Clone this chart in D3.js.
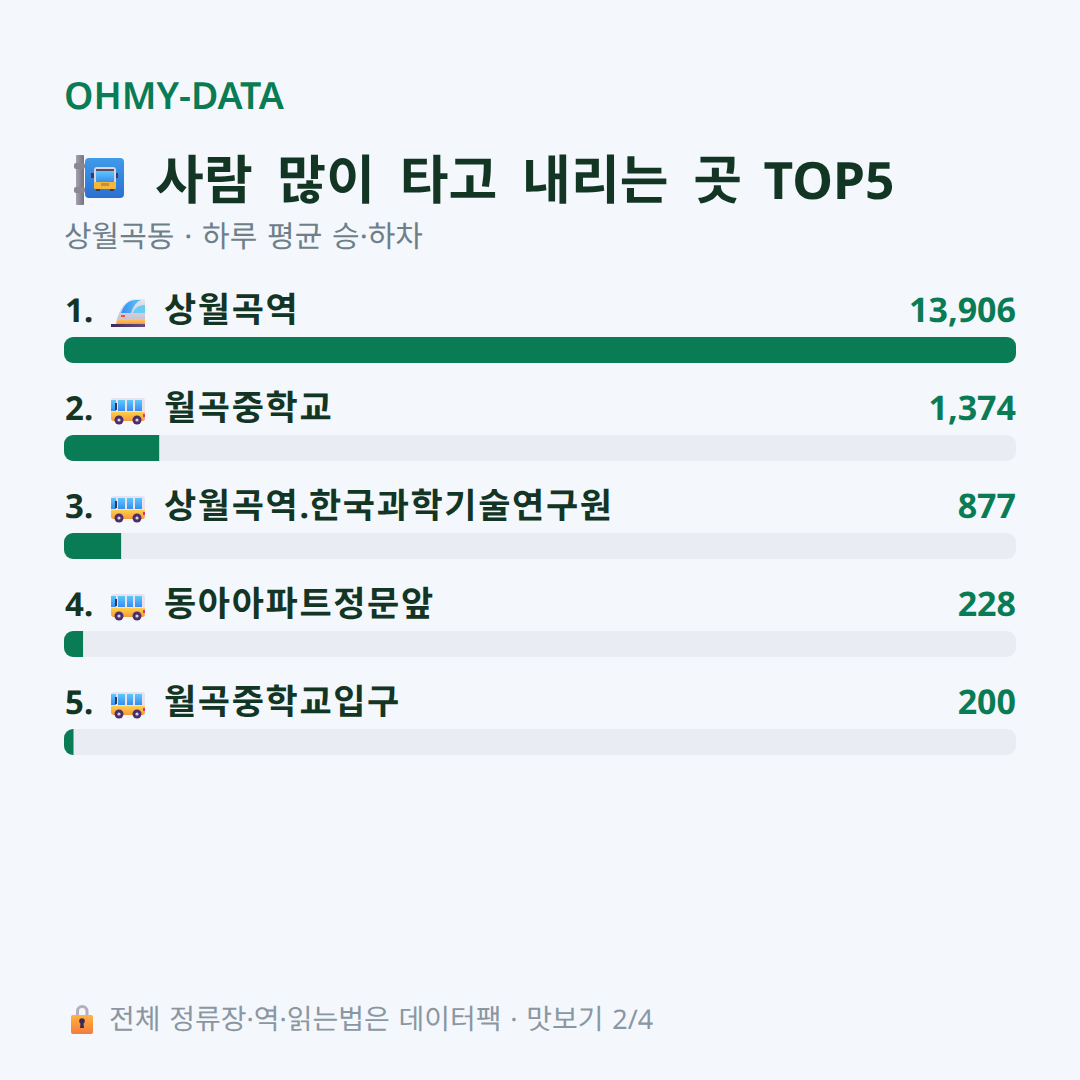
<!DOCTYPE html>
<html lang="ko"><head><meta charset="utf-8">
<script src="https://cdnjs.cloudflare.com/ajax/libs/d3/7.9.0/d3.min.js"></script>
<style>
html,body{margin:0;padding:0;background:#f4f7fc;}
svg{display:block;text-rendering:geometricPrecision;}
text{font-family:"Noto Sans","Noto Sans CJK KR",sans-serif;}
</style></head><body><svg id="c" width="1080" height="1080"></svg>
<script>
const brand = "OHMY-DATA";
const headline = "사람 많이 타고 내리는 곳 TOP5";
const subhead = "상월곡동 · 하루 평균 승·하차";
const footnote = "전체 정류장·역·읽는법은 데이터팩 · 맛보기 2/4";
const ranks = ["1.", "2.", "3.", "4.", "5."];
const stops = ["상월곡역", "월곡중학교", "상월곡역.한국과학기술연구원", "동아아파트정문앞", "월곡중학교입구"];
const riders = [13906, 1374, 877, 228, 200];
const kinds = ["train", "bus", "bus", "bus", "bus"];

const GREEN = "#0a7c55", INK = "#123524", TRACK = "#e9edf3", GREY = "#6e7f8a", FOOT = "#8a97a3";
const svg = d3.select("#c");
svg.append("rect").attr("width", 1080).attr("height", 1080).attr("fill", "#f4f7fc");

// Bars run on a whole-percent share of the busiest stop.
const share = d => Math.round(d / d3.max(riders) * 100);
const x = d3.scaleLinear().domain([0, 100]).range([64, 1016]);
const y = d3.scalePoint().domain(d3.range(stops.length)).range([337, 729]);

const defs = svg.append("defs");
function grad(id, a, b, horizontal) {
  const g = defs.append("linearGradient").attr("id", id).attr("x1", 0).attr("y1", 0)
    .attr("x2", horizontal ? 1 : 0).attr("y2", horizontal ? 0 : 1);
  g.append("stop").attr("offset", 0).attr("stop-color", a);
  g.append("stop").attr("offset", 1).attr("stop-color", b);
}
grad("gBlue", "#3f9bea", "#2b6fd0");
grad("gBody", "#ffcf4a", "#f79a3a");
grad("gSky", "#5cc8fa", "#3a8cf0");
grad("gLock", "#ffb43f", "#f47a3e");
grad("gPole", "#a5a1ac", "#77727f", true);
grad("gNose", "#e9e6ee", "#c9c4d2");
grad("gBand", "#ffc955", "#f79a4a");
grad("gRail", "#3c2a55", "#6a4a88", true);
grad("gFront", "#3a8cf0", "#5cc8fa", true);

// Hangul and Latin runs are set at their own sizes, as the two scripts differ in width.
function setRuns(sel, str, hangulSize, latinSize, hangulTrack, latinShift) {
  str.match(/[가-힣]+|[^가-힣]+/g).forEach(run => {
    const isHangul = /[가-힣]/.test(run);
    sel.append("tspan").attr("font-size", isHangul ? hangulSize : latinSize)
      .attr("letter-spacing", isHangul ? hangulTrack : 0)
      .attr("dx", isHangul ? 0 : (latinShift || 0)).text(run);
  });
}

svg.append("text").attr("x", 64).attr("y", 109).attr("font-size", 37.4).attr("font-weight", 600).attr("fill", GREEN).text(brand);
svg.append("text").attr("x", 155).attr("y", 199).attr("font-weight", 700).attr("fill", INK).attr("word-spacing", 11)
  .call(setRuns, headline, 53, 51.5, 0.2);
svg.select("text:last-of-type").selectAll("tspan").filter(function () { return /TOP/.test(this.textContent); }).attr("dx", -3);
svg.append("text").attr("x", 64).attr("y", 247).attr("font-weight", 400).attr("fill", GREY).attr("word-spacing", 2)
  .call(setRuns, subhead, 30, 30, 0);
svg.append("text").attr("x", 109).attr("y", 1029).attr("fill", FOOT).attr("word-spacing", 1.7)
  .call(setRuns, footnote, 28, 27, 0);

// Bus stop sign
const sign = svg.append("g").attr("transform", "translate(74,155)");
sign.append("rect").attr("x", 2).attr("y", 0).attr("width", 8).attr("height", 50).attr("rx", 1).attr("fill", "url(#gPole)");
[8, 32].forEach(t => sign.append("rect").attr("x", 0).attr("y", t).attr("width", 11).attr("height", 6).attr("rx", 2).attr("fill", "#8a8692"));
sign.append("rect").attr("x", 11).attr("y", 3).attr("width", 39).attr("height", 40).attr("rx", 4).attr("fill", "url(#gBlue)");
[17, 41].forEach(m => sign.append("rect").attr("x", m).attr("y", 18).attr("width", 3).attr("height", 5).attr("fill", "#3d3a52"));
sign.append("rect").attr("x", 20).attr("y", 12).attr("width", 22).attr("height", 21).attr("rx", 3).attr("fill", "#d8d4e4");
sign.append("rect").attr("x", 22).attr("y", 16).attr("width", 18).attr("height", 11).attr("fill", "url(#gSky)");
sign.append("rect").attr("x", 22).attr("y", 14).attr("width", 18).attr("height", 2).attr("fill", "#5a4a68");
sign.append("rect").attr("x", 20).attr("y", 27).attr("width", 22).attr("height", 7).attr("rx", 1).attr("fill", "#f3b73a");
sign.append("rect").attr("x", 27).attr("y", 28).attr("width", 8).attr("height", 3).attr("fill", "#c58f3c");
[22, 36].forEach(w => sign.append("rect").attr("x", w).attr("y", 34).attr("width", 4).attr("height", 2).attr("fill", "#3d3a52"));

function drawTrain(g) {
  g.append("path").attr("d", "M6 21 C8 14 13 1 24 1 L34 1 L34 21 Z").attr("fill", "url(#gNose)");
  g.append("path").attr("d", "M10 15 C13 7 17 2 25 2 L30 2 C25 4 22 9 20 15 Z").attr("fill", "url(#gFront)");
  g.append("path").attr("d", "M22 15 C23 11 27 7 34 7 L34 15 Z").attr("fill", "#67cdf8");
  g.append("rect").attr("x", 10).attr("y", 17).attr("width", 4).attr("height", 2).attr("fill", "#f0503c");
  g.append("path").attr("d", "M6 21 L34 21 L34 26 L5 26 Z").attr("fill", "url(#gBand)");
  g.append("rect").attr("x", 0).attr("y", 26).attr("width", 34).attr("height", 3).attr("fill", "url(#gRail)");
}
function drawBus(g) {
  g.append("rect").attr("x", 0).attr("y", 3).attr("width", 34).attr("height", 23).attr("rx", 3).attr("fill", "#e6e2ee");
  [[0, 5], [7, 7], [16, 6], [24, 7]].forEach(([a, w]) =>
    g.append("rect").attr("x", a).attr("y", 5).attr("width", w).attr("height", 11).attr("fill", "url(#gSky)"));
  g.append("rect").attr("x", 4).attr("y", 8).attr("width", 2).attr("height", 7).attr("fill", "#2c3a55");
  g.append("path").attr("d", "M0 17 H34 V23 Q34 26 31 26 H3 Q0 26 0 23 Z").attr("fill", "url(#gBody)");
  g.append("rect").attr("x", 32).attr("y", 19).attr("width", 2).attr("height", 3).attr("fill", "#d8367a");
  [8, 26].forEach(c => {
    g.append("circle").attr("cx", c).attr("cy", 25).attr("r", 4.5).attr("fill", "#4a2f6a");
    g.append("circle").attr("cx", c).attr("cy", 25).attr("r", 1.6).attr("fill", "#d8d4e4");
  });
}

const rows = svg.selectAll("g.row").data(riders).join("g").attr("class", "row");
rows.append("rect").attr("x", x(0)).attr("y", (d, i) => y(i)).attr("width", x(100) - x(0)).attr("height", 26).attr("rx", 9).attr("fill", TRACK);
// Only the full-length bar is rounded at its far end.
rows.append("path").attr("fill", GREEN).attr("d", (d, i) => {
  const x0 = x(0), x1 = x(share(d)), t = y(i), b = t + 26, r = 9;
  const end = share(d) === 100
    ? `L${x1 - r} ${t} A${r} ${r} 0 0 1 ${x1} ${t + r} L${x1} ${b - r} A${r} ${r} 0 0 1 ${x1 - r} ${b}`
    : `L${x1} ${t} L${x1} ${b}`;
  return `M${x0 + r} ${t} ${end} L${x0 + r} ${b} A${r} ${r} 0 0 1 ${x0} ${b - r} L${x0} ${t + r} A${r} ${r} 0 0 1 ${x0 + r} ${t} Z`;
});
rows.append("text").attr("x", 65).attr("y", (d, i) => y(i) - 15).attr("font-size", 33).attr("font-weight", 700).attr("fill", INK).text((d, i) => ranks[i]);
rows.append("text").attr("x", 164).attr("y", (d, i) => y(i) - 15).attr("font-weight", 700).attr("fill", INK)
  .each(function (d, i) { setRuns(d3.select(this), stops[i], 35, 34, 1.65); });
rows.append("text").attr("x", 1016).attr("y", (d, i) => y(i) - 15).attr("text-anchor", "end").attr("font-size", 34).attr("font-weight", 700).attr("fill", GREEN).text(d => d3.format(",")(d));
rows.append("g").attr("transform", (d, i) => `translate(111,${y(i) - 40 + (kinds[i] === "train" ? 1 : 0)})`).each(function (d, i) {
  (kinds[i] === "train" ? drawTrain : drawBus)(d3.select(this));
});

// Padlock
const lock = svg.append("g").attr("transform", "translate(70,1006)");
lock.append("path").attr("d", "M7.5 11 V5.25 A4.75 4.75 0 0 1 17 5.25 V11").attr("fill", "none").attr("stroke", "#b5aec2").attr("stroke-width", 3);
lock.append("rect").attr("x", 1).attr("y", 9).attr("width", 22).attr("height", 19).attr("rx", 2).attr("fill", "url(#gLock)");
lock.append("circle").attr("cx", 12).attr("cy", 15).attr("r", 2.8).attr("fill", "#3d2a50");
lock.append("path").attr("d", "M10.8 15 H13.2 L14 22 H10 Z").attr("fill", "#3d2a50");
</script></body></html>
